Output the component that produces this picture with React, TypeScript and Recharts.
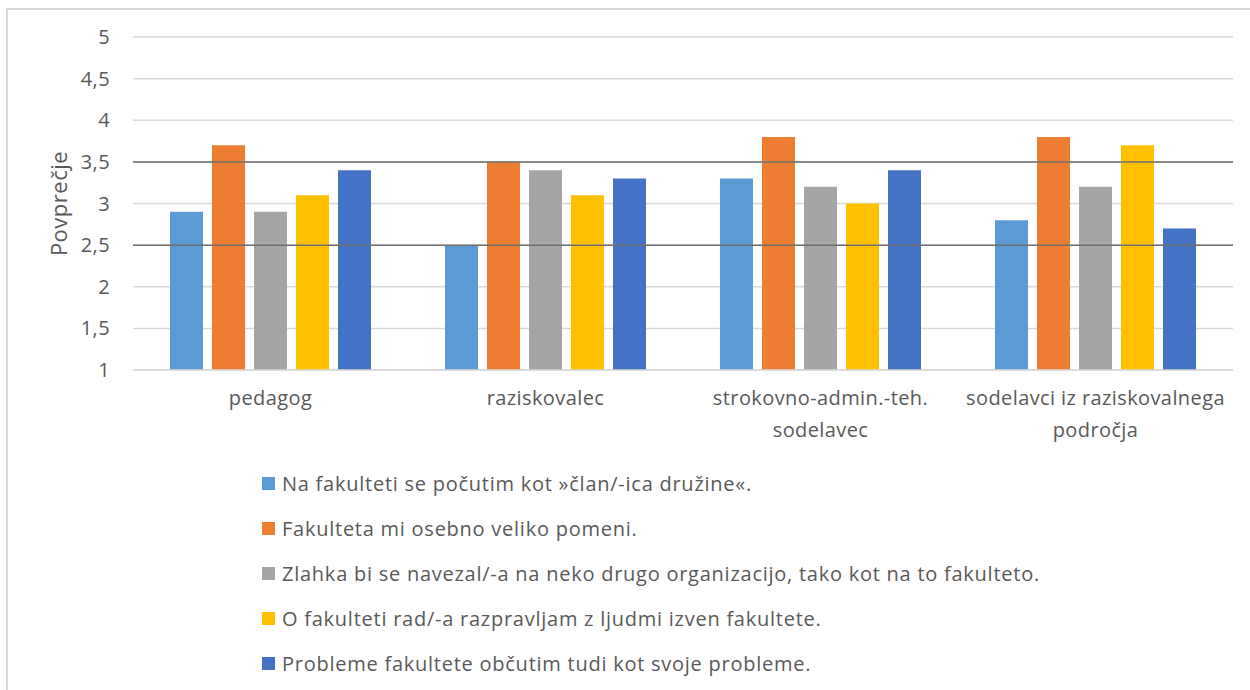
import React from 'react';
import {
  BarChart,
  Bar,
  XAxis,
  YAxis,
  CartesianGrid,
  Legend,
  ReferenceLine,
} from 'recharts';

const categories = [
  'pedagog',
  'raziskovalec',
  'strokovno-admin.-teh. sodelavec',
  'sodelavci iz raziskovalnega področja',
];

// two-line labels as they wrap in the original
const categoryLines: string[][] = [
  ['pedagog'],
  ['raziskovalec'],
  ['strokovno-admin.-teh.', 'sodelavec'],
  ['sodelavci iz raziskovalnega', 'področja'],
];

const seriesNames = [
  'Na fakulteti se počutim kot »član/-ica družine«.',
  'Fakulteta mi osebno veliko pomeni.',
  'Zlahka bi se navezal/-a na neko drugo organizacijo, tako kot na to fakulteto.',
  'O fakulteti rad/-a razpravljam z ljudmi izven fakultete.',
  'Probleme fakultete občutim tudi kot svoje probleme.',
];

const clanDruzine = [2.9, 2.5, 3.3, 2.8];
const osebnoPomeni = [3.7, 3.5, 3.8, 3.8];
const zlahkaNavezal = [2.9, 3.4, 3.2, 3.2];
const razpravljam = [3.1, 3.1, 3.0, 3.7];
const problemi = [3.4, 3.3, 3.4, 2.7];

const yTicks = [1, 1.5, 2, 2.5, 3, 3.5, 4, 4.5, 5];
const markedLevels = [3.5, 2.5];

const COLORS = ['#5B9BD5', '#ED7D31', '#A5A5A5', '#FFC000', '#4472C4'];
const seriesValues = [clanDruzine, osebnoPomeni, zlahkaNavezal, razpravljam, problemi];

const data = categories.map((cat, i) => {
  const row: any = { name: cat };
  seriesNames.forEach((s, j) => {
    row['s' + j] = seriesValues[j][i];
  });
  return row;
});

const FONT = '"Open Sans", sans-serif';
const TEXT = '#595959';

const CategoryTick = (props: any) => {
  const { x, y, payload } = props;
  const idx = categories.indexOf(payload.value);
  const lines = categoryLines[idx] || [payload.value];
  return (
    <text x={x} y={y + 27} textAnchor="middle" fill={TEXT} fontSize={20} letterSpacing={0.4} fontFamily={FONT}>
      {lines.map((l, i) => (
        <tspan key={i} x={x} dy={i === 0 ? 0 : 32}>
          {l}
        </tspan>
      ))}
    </text>
  );
};

const LegendList = (props: any) => {
  // keep the series order, not the alphabetical one
  const items = [...(props.payload || [])].sort(
    (a: any, b: any) => seriesNames.indexOf(a.value) - seriesNames.indexOf(b.value)
  );
  return (
    <div style={{ fontFamily: FONT, fontSize: 20, letterSpacing: 0.75, color: TEXT }}>
      {items.map((p: any) => (
        <div key={p.value} style={{ height: 45, display: 'flex', alignItems: 'center', whiteSpace: 'nowrap' }}>
          <span style={{ width: 13, height: 13, background: p.color, display: 'inline-block', marginRight: 7 }} />
          <span>{p.value}</span>
        </div>
      ))}
    </div>
  );
};

const YTitle = (props: any) => {
  const { viewBox } = props;
  const cy = viewBox.y + viewBox.height / 2;
  return (
    <text
      x={58}
      y={cy}
      transform={`rotate(-90, 58, ${cy})`}
      textAnchor="middle"
      dominantBaseline="central"
      fill={TEXT}
      fontSize={22}
      letterSpacing={0.5}
      fontFamily={FONT}
    >
      Povprečje
    </text>
  );
};

export default function App() {
  return (
    <div style={{ position: 'absolute', left: 0, top: 0, width: 1250, height: 690, background: '#fff', overflow: 'hidden' }}>
      <div
        style={{
          position: 'absolute',
          left: 6,
          top: 8,
          width: 1260,
          height: 700,
          borderTop: '2px solid #d9d9d9',
          borderLeft: '2px solid #d9d9d9',
        }}
      />
      <BarChart
        width={1250}
        height={690}
        data={data}
        margin={{ top: 37, right: 17, bottom: 290, left: 0 }}
        barSize={33}
        barGap={9}
        style={{ position: 'absolute', left: 0, top: 0 }}
      >
        <CartesianGrid vertical={false} stroke="#d9d9d9" strokeWidth={1.5} />
        <XAxis
          dataKey="name"
          height={30}
          interval={0}
          tickLine={false}
          axisLine={{ stroke: '#d9d9d9', strokeWidth: 1.5 }}
          tick={<CategoryTick />}
        />
        <YAxis
          width={133}
          domain={[1, 5]}
          ticks={yTicks}
          axisLine={false}
          tickLine={false}
          tickSize={0}
          tickMargin={23}
          tick={{ fill: TEXT, fontSize: 20, fontFamily: FONT, letterSpacing: 0.4 }}
          tickFormatter={(v: number) => String(v).replace('.', ',')}
          label={<YTitle />}
        />
        <Legend
          layout="vertical"
          align="center"
          verticalAlign="middle"
          content={<LegendList />}
          wrapperStyle={{ left: 262, top: 461, width: 950 }}
        />
        {seriesNames.map((s, j) => (
          <Bar key={s} dataKey={'s' + j} name={s} fill={COLORS[j]} isAnimationActive={false} />
        ))}
        {markedLevels.map((v) => (
          <ReferenceLine key={v} y={v} stroke="#6e6e6e" strokeWidth={1.5} />
        ))}
      </BarChart>
    </div>
  );
}
